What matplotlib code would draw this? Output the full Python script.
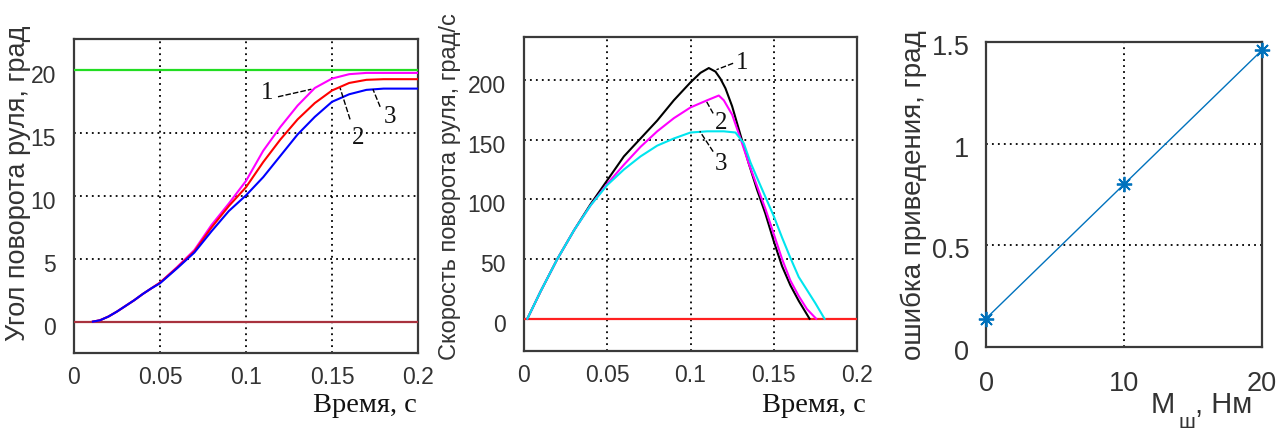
import matplotlib
matplotlib.use("Agg")
import matplotlib.pyplot as plt
import matplotlib.transforms as mtransforms

# ---------------- data ----------------
# Panel 1: steering angle, deg
t_ang = [0.011, 0.015, 0.02, 0.025, 0.03, 0.035, 0.04, 0.045, 0.05, 0.06, 0.07, 0.08,
         0.09, 0.10, 0.11, 0.12, 0.13, 0.14, 0.15, 0.16, 0.17, 0.18, 0.19, 0.2]
ang_1 = [0, 0.1, 0.4, 0.8, 1.25, 1.7, 2.2, 2.65, 3.1, 4.35, 5.7, 7.7,
         9.4, 11.2, 13.6, 15.5, 17.2, 18.6, 19.35, 19.7, 19.8, 19.8, 19.8, 19.8]
ang_2 = [0, 0.1, 0.4, 0.8, 1.25, 1.7, 2.2, 2.65, 3.1, 4.3, 5.6, 7.5,
         9.2, 10.7, 12.7, 14.5, 16.1, 17.4, 18.4, 19.0, 19.25, 19.3, 19.3, 19.3]
ang_3 = [0, 0.1, 0.4, 0.8, 1.25, 1.7, 2.2, 2.65, 3.05, 4.25, 5.5, 7.2,
         8.8, 10.05, 11.5, 13.2, 14.9, 16.3, 17.5, 18.1, 18.45, 18.55, 18.55, 18.55]
ang_ref = 20
ang_zero = 0

# Panel 2: steering rate, deg/s
t_v1 = [0.002, 0.01, 0.02, 0.03, 0.04, 0.05, 0.06, 0.07, 0.08, 0.09, 0.1, 0.106, 0.111,
        0.115, 0.118, 0.121, 0.125, 0.13, 0.135, 0.14, 0.145, 0.15, 0.155, 0.16, 0.165, 0.1715]
v_1 = [0, 23, 50, 74, 96, 116, 136, 151, 166, 183, 198, 206, 210,
       207, 201, 193, 178, 154, 130, 108, 88, 65, 44, 28, 15, 0]
t_v2 = [0.002, 0.01, 0.02, 0.03, 0.04, 0.05, 0.06, 0.07, 0.08, 0.09, 0.1, 0.11, 0.117,
        0.12, 0.125, 0.13, 0.135, 0.14, 0.145, 0.15, 0.155, 0.16, 0.165, 0.17, 0.1755]
v_2 = [0, 23, 50, 74, 95, 113, 129, 144, 157, 168, 177, 183, 187,
       183, 171, 151, 130, 111, 92, 71, 50, 32, 19, 8, 0]
t_v3 = [0.002, 0.01, 0.02, 0.03, 0.04, 0.05, 0.06, 0.07, 0.08, 0.09, 0.1, 0.11, 0.12,
        0.127, 0.132, 0.136, 0.14, 0.145, 0.15, 0.155, 0.16, 0.165, 0.17, 0.175, 0.1805]
v_3 = [0, 23, 50, 74, 95, 112, 125, 136, 145, 151, 156, 157, 157,
       156, 147, 131, 118, 102, 86, 68, 51, 35, 24, 13, 0]
v_zero = 0

# Panel 3: error vs hinge moment
m_hinge = [0, 10, 20]
err = [0.14, 0.80, 1.46]

time_ticks = [0, 0.05, 0.1, 0.15, 0.2]
time_tick_labels = ["0", "0.05", "0.1", "0.15", "0.2"]
ang_ticks = [0, 5, 10, 15, 20]
vel_ticks = [0, 50, 100, 150, 200]
m_ticks = [0, 10, 20]
err_ticks = [0, 0.5, 1, 1.5]
err_tick_labels = ["0", "0.5", "1", "1.5"]

# ---------------- figure ----------------
W, H = 1279, 432
fig = plt.figure(figsize=(W / 100, H / 100), dpi=100)
SANS = ["Liberation Sans", "DejaVu Sans"]
SERIF = ["Liberation Serif", "DejaVu Serif"]
TICKC = "#333333"
GRID = dict(color="black", linestyle=(0, (1, 2.3)), linewidth=1.3)


def px_axes(l, t, r, b):
    return fig.add_axes([l / W, 1 - b / H, (r - l) / W, (b - t) / H])


def style(ax, fs, dx, dy, pad=12):
    for s in ax.spines.values():
        s.set_color("#3a3a3a")
        s.set_linewidth(1.6)
    ax.tick_params(length=0, labelsize=fs, labelcolor=TICKC, pad=pad)
    for lbl in ax.get_xticklabels() + ax.get_yticklabels():
        lbl.set_fontfamily(SANS)
    off_x = mtransforms.ScaledTranslation(dx / 100, 0, fig.dpi_scale_trans)
    off_y = mtransforms.ScaledTranslation(0, -dy / 100, fig.dpi_scale_trans)
    for lbl in ax.get_xticklabels():
        lbl.set_transform(lbl.get_transform() + off_x)
    for lbl in ax.get_yticklabels():
        lbl.set_transform(lbl.get_transform() + off_y)


# ---- Panel 1 ----
ax1 = px_axes(74, 39, 418, 353)
ax1.set_xlim(0, 0.2)
ax1.set_ylim(-2.5, 22.5)
ax1.set_xticks(time_ticks)
ax1.set_xticklabels(time_tick_labels)
ax1.set_yticks(ang_ticks)
ax1.grid(True, **GRID)
ax1.axhline(ang_ref, color="#22dd22", lw=1.6, zorder=3)
ax1.axhline(ang_zero, color="#a8323e", lw=1.6, zorder=3)
ax1.plot(t_ang, ang_1, color="#ff00ff", lw=1.5, zorder=4)
ax1.plot(t_ang, ang_2, color="#ff0000", lw=1.5, zorder=4)
ax1.plot(t_ang, ang_3, color="#0000ff", lw=1.5, zorder=5)
style(ax1, 16.5, -5, 4, pad=13)
ax1.tick_params(axis="x", pad=9)

lead = dict(color="black", lw=1.0, linestyle=(0, (4, 1.5)), zorder=6)
ax1.plot([0.1186, 0.138], [17.9, 18.5], **lead)
ax1.plot([0.1605, 0.1547], [16.1, 18.6], **lead)
ax1.plot([0.178, 0.1738], [17.1, 18.5], **lead)
ax1.text(0.112, 18.2, "1", family=SERIF, fontsize=18, ha="center", va="center", color="#111111")
ax1.text(0.165, 14.6, "2", family=SERIF, fontsize=18, ha="center", va="center", color="#111111")
ax1.text(0.1837, 16.3, "3", family=SERIF, fontsize=18, ha="center", va="center", color="#111111")

fig.text(18 / W, 1 - 183 / H, "Угол поворота руля, град", rotation=90, ha="center",
         va="center", family=SANS, fontsize=19.5, color="#333333")
fig.text(417 / W, 1 - 405 / H, "Время, с", ha="right", va="center", family=SERIF,
         fontsize=20.5, color="#111111")

# ---- Panel 2 ----
ax2 = px_axes(524, 37, 857, 351)
ax2.set_xlim(0, 0.2)
ax2.set_ylim(-27, 236)
ax2.set_xticks(time_ticks)
ax2.set_xticklabels(time_tick_labels)
ax2.set_yticks(vel_ticks)
ax2.grid(True, **GRID)
ax2.axhline(v_zero, color="#ff2020", lw=1.6, zorder=3)
ax2.plot(t_v1, v_1, color="black", lw=1.5, zorder=4)
ax2.plot(t_v2, v_2, color="#ff00ff", lw=1.5, zorder=4)
ax2.plot(t_v3, v_3, color="#00e5ee", lw=1.5, zorder=5)
style(ax2, 16.5, -9, 4, pad=13)
ax2.tick_params(axis="x", pad=9)

ax2.plot([0.1256, 0.1156], [214, 208.6], **lead)
ax2.plot([0.1136, 0.1096], [172, 182], **lead)
ax2.plot([0.1136, 0.1056], [140, 157], **lead)
ax2.text(0.131, 214, "1", family=SERIF, fontsize=18, ha="center", va="center", color="#111111")
ax2.text(0.1186, 164, "2", family=SERIF, fontsize=18, ha="center", va="center", color="#111111")
ax2.text(0.1186, 130, "3", family=SERIF, fontsize=18, ha="center", va="center", color="#111111")

fig.text(450 / W, 1 - 187 / H, "Скорость поворота руля, град/с", rotation=90, ha="center",
         va="center", family=SANS, fontsize=17, color="#333333")
fig.text(866 / W, 1 - 405 / H, "Время, с", ha="right", va="center", family=SERIF,
         fontsize=20.5, color="#111111")

# ---- Panel 3 ----
ax3 = px_axes(986, 42, 1262, 347)
ax3.set_xlim(0, 20)
ax3.set_ylim(0, 1.5)
ax3.set_xticks(m_ticks)
ax3.set_yticks(err_ticks)
ax3.set_yticklabels(err_tick_labels)
ax3.grid(True, **GRID)
ax3.plot(m_hinge, err, color="#0072BD", lw=1.0, marker=(8, 2, 0), markersize=11,
         markeredgewidth=1.3, clip_on=False, zorder=5)
style(ax3, 19.5, 0, 3)
ax3.tick_params(axis="x", pad=17)

fig.text(914 / W, 1 - 195 / H, "ошибка приведения, град", rotation=90, ha="center",
         va="center", family=SANS, fontsize=20, color="#333333")
fig.text(1151 / W, 1 - 413 / H, "M", ha="left", va="baseline", family=SANS,
         fontsize=21, color="#333333")
fig.text(1179 / W, 1 - 428 / H, "ш", ha="left", va="baseline", family=SANS,
         fontsize=15, color="#333333")
fig.text(1195 / W, 1 - 413 / H, ", Нм", ha="left", va="baseline", family=SANS,
         fontsize=21, color="#333333")

fig.savefig("out.png", dpi=100)
